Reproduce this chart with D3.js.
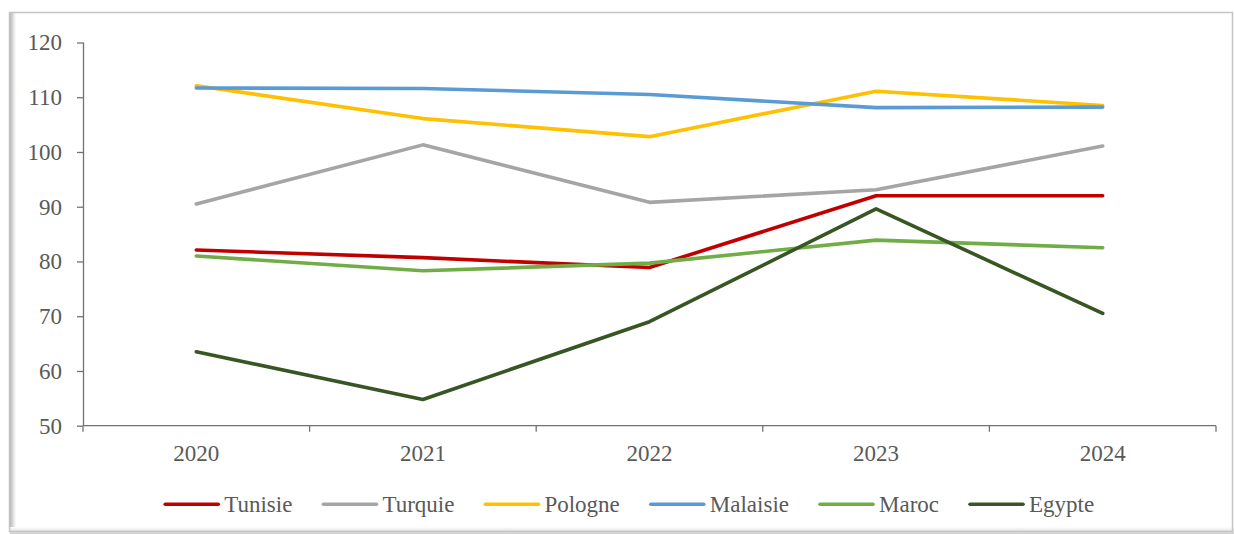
<!DOCTYPE html>
<html>
<head>
<meta charset="utf-8">
<script src="https://cdn.jsdelivr.net/npm/d3@7"></script>
<style>
  html, body { margin: 0; padding: 0; background: #ffffff; }
  svg { display: block; }
  svg text { font-family: "Liberation Serif", "Times New Roman", Times, "DejaVu Serif", serif !important; fill: #595959; }
</style>
</head>
<body>
<svg id="chart" width="1234" height="534"></svg>
<script>
// ---- data ----
const years = ["2020", "2021", "2022", "2023", "2024"];
const seriesNames = ["Tunisie", "Turquie", "Pologne", "Malaisie", "Maroc", "Egypte"];
const tunisie  = [82.1, 80.7, 78.9, 92.0, 92.0];
const turquie  = [90.5, 101.3, 90.8, 93.1, 101.1];
const pologne  = [112.1, 106.1, 102.8, 111.1, 108.5];
const malaisie = [111.7, 111.6, 110.5, 108.1, 108.2];
const maroc    = [81.0, 78.3, 79.7, 83.9, 82.5];
const egypte   = [63.5, 54.8, 69.0, 89.6, 70.5];
const yTicks = [50, 60, 70, 80, 90, 100, 110, 120];
const colors = ["#C00000", "#A5A5A5", "#FFC000", "#5B9BD5", "#70AD47", "#375623"];

const seriesValues = [tunisie, turquie, pologne, malaisie, maroc, egypte];
const series = seriesNames.map((n, i) => ({ name: n, values: seriesValues[i], color: colors[i] }));

const FONT = "'Liberation Serif', 'Times New Roman', Times, 'DejaVu Serif', serif";
const svg = d3.select("#chart").attr("font-family", FONT);

// ---- frame with soft shadow ----
const defs = svg.append("defs");
const gl = defs.append("linearGradient").attr("id", "shL").attr("x1", "0").attr("x2", "1").attr("y1", "0").attr("y2", "0");
gl.append("stop").attr("offset", "0").attr("stop-color", "#b8b8b8");
gl.append("stop").attr("offset", "1").attr("stop-color", "#ffffff");
const gb = defs.append("linearGradient").attr("id", "shB").attr("x1", "0").attr("x2", "0").attr("y1", "0").attr("y2", "1");
gb.append("stop").attr("offset", "0").attr("stop-color", "#ffffff");
gb.append("stop").attr("offset", "1").attr("stop-color", "#d0d0d0");

svg.append("rect").attr("x", 10).attr("y", 13).attr("width", 6).attr("height", 520).attr("fill", "url(#shL)");
svg.append("rect").attr("x", 10).attr("y", 527).attr("width", 1224).attr("height", 7).attr("fill", "url(#shB)");
svg.append("rect").attr("x", 9.5).attr("y", 12.5).attr("width", 1223).attr("height", 519)
  .attr("fill", "none").attr("stroke", "#c4c4c4").attr("stroke-width", 1.5);

// ---- scales ----
const x = d3.scaleBand().domain(years).range([83, 1216]).padding(0);
const y = d3.scaleLinear().domain([50, 120]).range([425.7, 42.5]);
const axisColor = "#767171";

// y axis
const yAxis = svg.append("g").attr("transform", "translate(83,0)")
  .call(d3.axisLeft(y).tickValues(yTicks).tickSize(6).tickPadding(15).tickFormat(d3.format("d")));
yAxis.attr("font-family", FONT).attr("font-size", 23);
yAxis.select(".domain").attr("stroke", axisColor).attr("stroke-width", 1.3).attr("d", `M0.5,${y(120)}V${y(50)}`);
yAxis.selectAll(".tick line").attr("stroke", axisColor).attr("stroke-width", 1.3);
yAxis.selectAll(".tick text").attr("font-size", 23).attr("fill", "#595959").attr("font-family", FONT);

// x axis
const xAxisG = svg.append("g").attr("transform", `translate(0,${y(50)})`);
xAxisG.append("line").attr("x1", 83).attr("x2", 1216).attr("y1", 0).attr("y2", 0)
  .attr("stroke", axisColor).attr("stroke-width", 1.3);
const boundaries = [x.range()[0]].concat(years.map(d => x(d) + x.bandwidth()));
xAxisG.selectAll("line.xt").data(boundaries).join("line").attr("class", "xt")
  .attr("x1", d => d).attr("x2", d => d).attr("y1", 0).attr("y2", 6)
  .attr("stroke", axisColor).attr("stroke-width", 1.3);
xAxisG.selectAll("text.xl").data(years).join("text").attr("class", "xl")
  .attr("x", d => x(d) + x.bandwidth() / 2).attr("y", 35.5)
  .attr("text-anchor", "middle").attr("font-size", 23).attr("font-family", FONT).text(d => d);

// ---- lines ----
const line = d3.line().x((d, i) => x(years[i]) + x.bandwidth() / 2).y(d => y(d));
svg.append("g").selectAll("path").data(series).join("path")
  .attr("d", s => line(s.values))
  .attr("fill", "none").attr("stroke", s => s.color).attr("stroke-width", 3.6)
  .attr("stroke-linejoin", "round").attr("stroke-linecap", "round");

// ---- legend ----
const leg = svg.append("g");
const lineLen = 53, gapText = 6, gapItem = 31, legY = 504.3;
const items = leg.selectAll("g").data(series).join("g");
items.append("line").attr("x1", 0).attr("x2", lineLen).attr("y1", legY).attr("y2", legY)
  .attr("stroke", s => s.color).attr("stroke-width", 3.6).attr("stroke-linecap", "round");
items.append("text").attr("x", lineLen + gapText).attr("y", 511.7).attr("font-size", 23)
  .attr("font-family", FONT).text(s => s.name);
let widths = [];
items.each(function () { widths.push(d3.select(this).select("text").node().getComputedTextLength()); });
const total = widths.reduce((a, w) => a + lineLen + gapText + w, 0) + gapItem * (widths.length - 1);
let cx = 629.7 - total / 2;
items.each(function (d, i) {
  d3.select(this).attr("transform", `translate(${cx},0)`);
  cx += lineLen + gapText + widths[i] + gapItem;
});
</script>
</body>
</html>
